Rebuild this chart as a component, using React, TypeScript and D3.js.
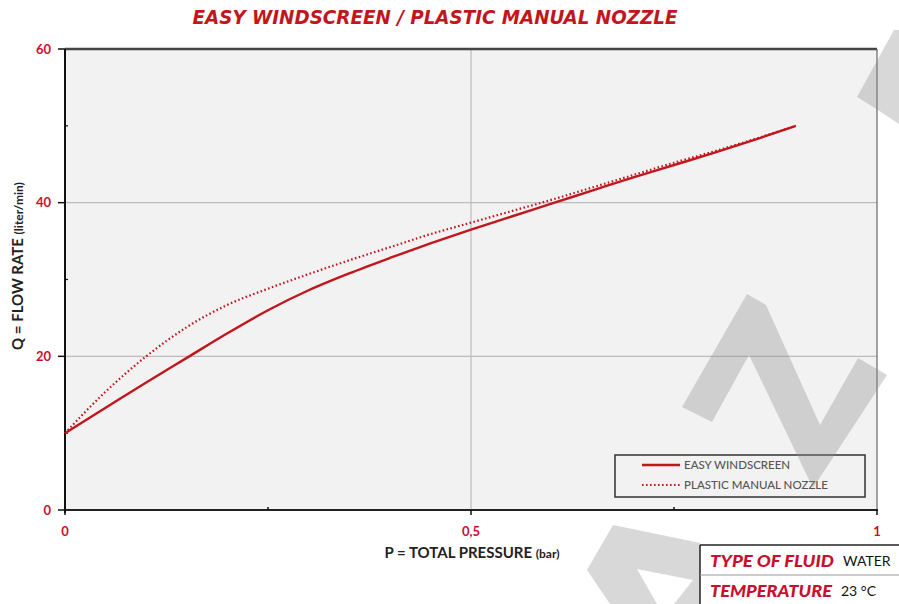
import { useMemo } from 'react'
import { scaleLinear, line, curveMonotoneX } from 'd3'

const width = 899
const height = 604
const margin = { top: 49, right: 22, bottom: 94, left: 65 }
const innerW = width - margin.left - margin.right
const innerH = height - margin.top - margin.bottom

const pressure = [0, 0.05, 0.1, 0.15, 0.2, 0.25, 0.3, 0.35, 0.4, 0.45, 0.5, 0.55, 0.6, 0.65, 0.7, 0.75, 0.8, 0.85, 0.9]
const easyWindscreen = [10, 13.3, 16.6, 19.8, 23.0, 26.0, 28.6, 30.8, 32.8, 34.7, 36.5, 38.2, 39.9, 41.6, 43.3, 44.9, 46.5, 48.2, 50]
const plasticNozzle = [10, 15.4, 20.0, 23.8, 26.7, 28.8, 30.7, 32.5, 34.2, 35.9, 37.4, 38.9, 40.4, 42.0, 43.6, 45.2, 46.7, 48.3, 50]

const xMajor = [0, 0.5, 1]
const xMajorLabels = ['0', '0,5', '1']
const xMinor = [0.25, 0.75]
const yMajor = [0, 20, 40, 60]
const yMinor = [10, 30, 50]
const gridY = [20, 40]
const gridX = [0.5]

const seriesNames = ['EASY WINDSCREEN', 'PLASTIC MANUAL NOZZLE']
const infoLabels = ['TYPE OF FLUID', 'TEMPERATURE']
const infoValues = ['WATER', '23 °C']

const red = '#c3161c'
const tickRed = '#c8102e'
const font = 'Lato, "Open Sans", sans-serif'

// watermark pieces (background decoration of the scanned sheet)
const watermark = [
  'M857,97 L894,30 L899,30 L899,124 L878,110 Z',
  'M682,407 L747,294 L766,305 L820,425 L858,358 L887,375 L813,488 L749,355 L712,422 Z',
  'M610,604 L587,570 L613,525 L700,543 L700,604 L674,604 L693,580 L637,569 L657,604 Z',
]

function App() {
  const x = scaleLinear().domain([0, 1]).range([0, innerW])
  const y = scaleLinear().domain([0, 60]).range([innerH, 0])

  const paths = useMemo(() => {
    const gen = line<number>()
      .x((_, i) => x(pressure[i]))
      .y(d => y(d))
      .curve(curveMonotoneX)
    return [gen(easyWindscreen), gen(plasticNozzle)]
  }, [])

  const legendX = 615 - margin.left
  const legendY = 455 - margin.top

  return (
    <svg width={width} height={height} style={{ position: 'absolute', left: 0, top: 0, background: '#fff' }}>
      <text x={435} y={24} textAnchor="middle" fill={red} fontFamily='"DejaVu Sans Condensed", "Liberation Sans Narrow", sans-serif'
        fontWeight="bold" fontStyle="italic" fontSize={19} textLength={485} lengthAdjust="spacingAndGlyphs">
        EASY WINDSCREEN / PLASTIC MANUAL NOZZLE
      </text>

      <g transform={`translate(${margin.left}, ${margin.top})`}>
        <rect width={innerW} height={innerH} fill="#f2f2f2" />
        {gridY.map(v => (
          <line key={'gy' + v} x1={0} x2={innerW} y1={y(v)} y2={y(v)} stroke="#bcbcbc" strokeWidth={1.2} />
        ))}
        {gridX.map(v => (
          <line key={'gx' + v} x1={x(v)} x2={x(v)} y1={0} y2={innerH} stroke="#bcbcbc" strokeWidth={1.2} />
        ))}
        {/* frame */}
        <line x1={0} x2={innerW} y1={0} y2={0} stroke="#444" strokeWidth={2.5} />
        <line x1={innerW} x2={innerW} y1={0} y2={innerH} stroke="#666" strokeWidth={1.2} />
        <line x1={0} x2={0} y1={0} y2={innerH + 3} stroke="#111" strokeWidth={2} />
        <line x1={-1} x2={innerW + 1} y1={innerH} y2={innerH} stroke="#222" strokeWidth={2} />

        {yMajor.map(v => (
          <g key={'ym' + v}>
            <line x1={-7} x2={0} y1={y(v)} y2={y(v)} stroke="#111" strokeWidth={1.5} />
            <text x={-14} y={y(v)} dy="0.35em" textAnchor="end" fill={tickRed} fontFamily={font} fontWeight="bold" fontSize={13}>
              {v}
            </text>
          </g>
        ))}
        {yMinor.map(v => (
          <line key={'yn' + v} x1={0} x2={3} y1={y(v)} y2={y(v)} stroke="#111" strokeWidth={1.2} />
        ))}
        {xMajor.map((v, i) => (
          <g key={'xm' + v}>
            <line x1={x(v)} x2={x(v)} y1={innerH} y2={innerH + 5} stroke="#111" strokeWidth={1.5} />
            <text x={x(v)} y={innerH + 26} textAnchor="middle" fill={tickRed} fontFamily={font} fontWeight="bold" fontSize={13}>
              {xMajorLabels[i]}
            </text>
          </g>
        ))}
        {xMinor.map(v => (
          <line key={'xn' + v} x1={x(v)} x2={x(v)} y1={innerH - 3} y2={innerH} stroke="#111" strokeWidth={1.5} />
        ))}

        <path d={paths[1] ?? ''} fill="none" stroke={red} strokeWidth={2.2} strokeDasharray="1.6 2.4" />
        <path d={paths[0] ?? ''} fill="none" stroke={red} strokeWidth={2.4} />

        <g transform={`translate(${legendX}, ${legendY})`}>
          <rect width={250} height={42} fill="#f2f2f2" stroke="#333" strokeWidth={1.5} />
          <line x1={27} x2={65} y1={10} y2={10} stroke={red} strokeWidth={2.4} />
          <line x1={27} x2={65} y1={30} y2={30} stroke={red} strokeWidth={2.2} strokeDasharray="1.6 2.4" />
          {seriesNames.map((n, i) => (
            <text key={n} x={69} y={10 + i * 20} dy="0.35em" fill="#555" fontFamily={font} fontSize={11.5} fontWeight={500}>
              {n}
            </text>
          ))}
        </g>
      </g>

      <text x={472} y={558} textAnchor="middle" fill="#222" fontFamily={font} fontWeight="bold" fontSize={15}>
        P = TOTAL PRESSURE <tspan fontSize={12}>(bar)</tspan>
      </text>
      <text transform="translate(23, 266) rotate(-90)" textAnchor="middle" fill="#222" fontFamily={font} fontWeight="bold" fontSize={15}>
        Q = FLOW RATE <tspan fontSize={12}>(liter/min)</tspan>
      </text>

      {watermark.map((d, i) => (
        <path key={'w' + i} d={d} fill="#8c8c8c" opacity={0.34} />
      ))}

      <g transform="translate(700, 545)">
        <rect width={199} height={59} fill="#fff" />
        <line x1={0} x2={199} y1={0} y2={0} stroke="#222" strokeWidth={1.5} />
        <line x1={0} x2={0} y1={0} y2={59} stroke="#222" strokeWidth={1.5} />
        <line x1={0} x2={199} y1={30} y2={30} stroke="#999" strokeWidth={1} />
        {infoLabels.map((l, i) => (
          <g key={l}>
            <text x={10} y={16 + i * 30} dy="0.36em" fill={tickRed} fontFamily={font} fontWeight="900" fontStyle="italic" fontSize={17}
              textLength={i === 0 ? 124 : 122} lengthAdjust="spacingAndGlyphs">
              {l}
            </text>
            <text x={i === 0 ? 143 : 141} y={16 + i * 30} dy="0.36em" fill="#111" fontFamily={font} fontSize={14}>
              {infoValues[i]}
            </text>
          </g>
        ))}
      </g>
    </svg>
  )
}

export default App
